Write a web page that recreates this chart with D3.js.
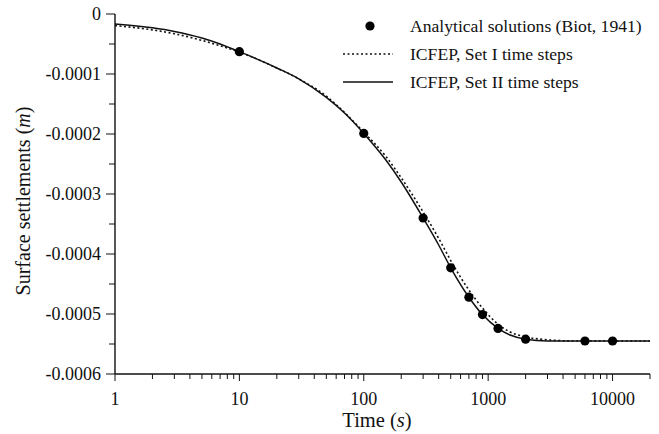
<!DOCTYPE html>
<html>
<head>
<meta charset="utf-8">
<script src="https://cdn.jsdelivr.net/npm/d3@7"></script>
<style>
  html, body { margin: 0; padding: 0; background: #fff; }
  svg { display: block; }
  text { font-family: "Liberation Serif", "DejaVu Serif", serif; fill: #111; }
</style>
</head>
<body>
<svg id="chart" width="659" height="434"></svg>
<script>
// ---- data ----
const analyticalTime = [10, 100, 300, 500, 700, 900, 1200, 2000, 6000, 10000];
const analyticalSettle = [-0.0000628, -0.000199, -0.00034, -0.000423, -0.000472, -0.000501, -0.000524, -0.000542, -0.000545, -0.000545];

const set1Time = [1, 2, 3, 5, 7, 10, 20, 30, 50, 70, 100, 150, 200, 300, 400, 500, 700, 900, 1200, 1500, 2000, 3000, 5000, 20000];
const set1Settle = [-0.0000194, -0.0000265, -0.000033, -0.000044, -0.000053, -0.0000635, -0.00009, -0.000108, -0.000137, -0.000164, -0.000197, -0.000237, -0.000273, -0.00033, -0.000374, -0.000411, -0.00046, -0.00049, -0.000517, -0.00053, -0.000538, -0.000543, -0.000545, -0.000545];

const set2Time = [1, 2, 3, 5, 7, 10, 20, 30, 50, 70, 100, 150, 200, 300, 400, 500, 700, 900, 1200, 1500, 2000, 3000, 5000, 20000];
const set2Settle = [-0.0000167, -0.000023, -0.000029, -0.00004, -0.00005, -0.0000628, -0.00009, -0.000108, -0.000139, -0.000165, -0.000199, -0.000243, -0.00028, -0.00034, -0.000385, -0.000423, -0.000472, -0.000501, -0.000524, -0.000535, -0.000542, -0.000545, -0.000545, -0.000545];

const xTickValues = [1, 10, 100, 1000, 10000];
const yTickValues = [0, -0.0001, -0.0002, -0.0003, -0.0004, -0.0005, -0.0006];
const yTickLabels = ["0", "-0.0001", "-0.0002", "-0.0003", "-0.0004", "-0.0005", "-0.0006"];

const legendLabels = ["Analytical solutions (Biot, 1941)", "ICFEP, Set I time steps", "ICFEP, Set II time steps"];

// ---- layout ----
const svg = d3.select("#chart");
const mLeft = 115, mRight = 650, mTop = 14, mBottom = 374;

const x = d3.scaleLog().domain([1, 20000]).range([mLeft, mRight]);
const y = d3.scaleLinear().domain([-0.0006, 0]).range([mBottom, mTop]);

// minor ticks
const xMinor = [];
for (let d = 1; d <= 10000; d *= 10) for (let k = 2; k <= 9; k++) if (d * k <= 20000) xMinor.push(d * k);
const yMinor = d3.range(-0.00055, 0, 0.0001);

// x axis
const gx = svg.append("g").attr("transform", `translate(0,${mBottom})`);
gx.append("line").attr("x1", mLeft).attr("x2", mRight).attr("stroke", "#111").attr("stroke-width", 1.4);
gx.selectAll(".xmaj").data(xTickValues).join("line")
  .attr("x1", d => x(d)).attr("x2", d => x(d)).attr("y1", 0).attr("y2", 7)
  .attr("stroke", "#111").attr("stroke-width", 1);
gx.selectAll(".xmin").data(xMinor).join("line")
  .attr("x1", d => x(d)).attr("x2", d => x(d)).attr("y1", 0).attr("y2", 5)
  .attr("stroke", "#111").attr("stroke-width", 1);
gx.selectAll(".xlab").data(xTickValues).join("text")
  .attr("x", d => x(d)).attr("y", 31).attr("text-anchor", "middle")
  .attr("font-size", 18).text(d => d3.format("d")(d));

// y axis
const gy = svg.append("g").attr("transform", `translate(${mLeft},0)`);
gy.append("line").attr("y1", mTop).attr("y2", mBottom).attr("stroke", "#111").attr("stroke-width", 1.4);
gy.selectAll(".ymaj").data(yTickValues).join("line")
  .attr("y1", d => y(d)).attr("y2", d => y(d)).attr("x1", 0).attr("x2", -9)
  .attr("stroke", "#111").attr("stroke-width", 1);
gy.selectAll(".ymin").data(yMinor).join("line")
  .attr("y1", d => y(d)).attr("y2", d => y(d)).attr("x1", 0).attr("x2", -6)
  .attr("stroke", "#111").attr("stroke-width", 1);
gy.selectAll(".ylab").data(yTickValues).join("text")
  .attr("x", -14).attr("y", d => y(d)).attr("dy", "0.33em").attr("text-anchor", "end")
  .attr("font-size", 18).text((d, i) => yTickLabels[i]);

// axis titles
const xt = svg.append("text").attr("x", 377).attr("y", 427).attr("text-anchor", "middle").attr("font-size", 20.5);
xt.append("tspan").text("Time (");
xt.append("tspan").attr("font-style", "italic").text("s");
xt.append("tspan").text(")");

const yt = svg.append("text").attr("transform", "translate(30,201) rotate(-90)").attr("text-anchor", "middle").attr("font-size", 20);
yt.append("tspan").text("Surface settlements (");
yt.append("tspan").attr("font-style", "italic").text("m");
yt.append("tspan").text(")");

// lines
const line = d3.line().x(d => x(d[0])).y(d => y(d[1])).curve(d3.curveMonotoneX);
svg.append("path").datum(set1Time.map((t, i) => [t, set1Settle[i]]))
  .attr("d", line).attr("fill", "none").attr("stroke", "#111").attr("stroke-width", 1.6)
  .attr("stroke-dasharray", "2,2.5");
svg.append("path").datum(set2Time.map((t, i) => [t, set2Settle[i]]))
  .attr("d", line).attr("fill", "none").attr("stroke", "#111").attr("stroke-width", 1.5);

// analytical points
svg.selectAll(".pt").data(analyticalTime).join("circle")
  .attr("cx", d => x(d)).attr("cy", (d, i) => y(analyticalSettle[i])).attr("r", 4.6).attr("fill", "#000");

// legend
const lg = svg.append("g");
const rows = [26, 54, 82];
lg.append("circle").attr("cx", 370).attr("cy", rows[0]).attr("r", 4.6).attr("fill", "#000");
lg.append("line").attr("x1", 343).attr("x2", 393).attr("y1", rows[1]).attr("y2", rows[1])
  .attr("stroke", "#111").attr("stroke-width", 1.6).attr("stroke-dasharray", "2,2.5");
lg.append("line").attr("x1", 343).attr("x2", 393).attr("y1", rows[2]).attr("y2", rows[2])
  .attr("stroke", "#111").attr("stroke-width", 1.5);
lg.selectAll(".lt").data(legendLabels).join("text")
  .attr("x", 410).attr("y", (d, i) => rows[i]).attr("dy", "0.33em")
  .attr("font-size", 17.6).text(d => d);
</script>
</body>
</html>
